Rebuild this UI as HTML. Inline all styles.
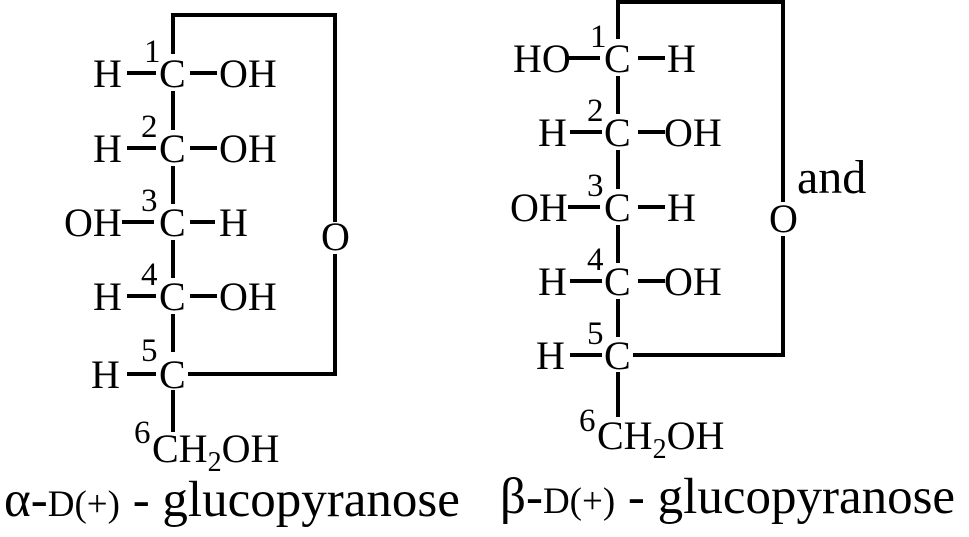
<!DOCTYPE html>
<html><head><meta charset="utf-8"><style>
html,body{margin:0;padding:0;background:#fff;}
svg{display:block;}
text{font-family:"Liberation Serif",serif;fill:#000;}
.a{font-size:40px;}
.n{font-size:33px;}
.l{font-size:51px;}
</style></head><body>
<svg width="969" height="537" viewBox="0 0 969 537" xmlns="http://www.w3.org/2000/svg">
<g stroke="#000" stroke-width="4" fill="none" stroke-linecap="square">
<polyline points="173,52 173,15 335,15 335,220"/>
<polyline points="335,256 335,374 190,374"/>
<line x1="173" y1="93" x2="173" y2="128"/>
<line x1="173" y1="168" x2="173" y2="202"/>
<line x1="173" y1="242" x2="173" y2="276"/>
<line x1="173" y1="316" x2="173" y2="350"/>
<line x1="173" y1="392" x2="173" y2="430"/>
<line x1="129" y1="73" x2="154" y2="73"/><line x1="192" y1="73" x2="215" y2="73"/>
<line x1="129" y1="148" x2="154" y2="148"/><line x1="192" y1="148" x2="215" y2="148"/>
<line x1="124" y1="222" x2="152" y2="222"/><line x1="192" y1="222" x2="213" y2="222"/>
<line x1="129" y1="296" x2="154" y2="296"/><line x1="192" y1="296" x2="215" y2="296"/>
<line x1="129" y1="374" x2="154" y2="374"/>
<polyline points="618,37 618,2 783,2 783,200"/>
<polyline points="783,238 783,355 635,355"/>
<line x1="618" y1="78" x2="618" y2="112"/>
<line x1="618" y1="152" x2="618" y2="187"/>
<line x1="618" y1="227" x2="618" y2="261"/>
<line x1="618" y1="301" x2="618" y2="335"/>
<line x1="618" y1="374" x2="618" y2="415"/>
<line x1="570" y1="58" x2="598" y2="58"/><line x1="640" y1="58" x2="663" y2="58"/>
<line x1="572" y1="132" x2="600" y2="132"/><line x1="640" y1="132" x2="663" y2="132"/>
<line x1="570" y1="207" x2="598" y2="207"/><line x1="640" y1="207" x2="663" y2="207"/>
<line x1="572" y1="281" x2="600" y2="281"/><line x1="640" y1="281" x2="663" y2="281"/>
<line x1="572" y1="355" x2="600" y2="355"/>
</g>
<g class="a">
<text x="93" y="87">H</text><text x="159" y="87">C</text><text x="219" y="87">OH</text>
<text x="93" y="162">H</text><text x="159" y="162">C</text><text x="219" y="162">OH</text>
<text x="64" y="236">OH</text><text x="159" y="236">C</text><text x="219" y="236">H</text>
<text x="93" y="310">H</text><text x="159" y="310">C</text><text x="219" y="310">OH</text>
<text x="321" y="250">O</text>
<text x="91" y="388">H</text><text x="159" y="388">C</text>
<text x="152" y="462">CH<tspan font-size="28" dy="9">2</tspan><tspan dy="-9">OH</tspan></text>
</g>
<g class="n">
<text x="144" y="62">1</text><text x="141" y="137">2</text><text x="141" y="211">3</text>
<text x="141" y="285">4</text><text x="141" y="361">5</text><text x="134" y="443">6</text>
</g>
<text class="l" x="4" y="516">α-<tspan font-size="37">D(+)</tspan> - glucopyranose</text>
<g class="a">
<text x="513" y="72">HO</text><text x="604" y="72">C</text><text x="667" y="72">H</text>
<text x="538" y="146">H</text><text x="604" y="146">C</text><text x="664" y="146">OH</text>
<text x="510" y="221">OH</text><text x="604" y="221">C</text><text x="667" y="221">H</text>
<text x="538" y="295">H</text><text x="604" y="295">C</text><text x="664" y="295">OH</text>
<text x="769" y="232">O</text>
<text x="536" y="369">H</text><text x="604" y="369">C</text>
<text x="597" y="449">CH<tspan font-size="28" dy="9">2</tspan><tspan dy="-9">OH</tspan></text>
</g>
<text x="797" y="193" font-size="48">and</text>
<g class="n">
<text x="590" y="47">1</text><text x="587" y="121">2</text><text x="587" y="196">3</text>
<text x="587" y="270">4</text><text x="587" y="344">5</text><text x="579" y="431">6</text>
</g>
<text class="l" x="500" y="513">β-<tspan font-size="37">D(+)</tspan> - glucopyranose</text>
</svg>
</body></html>
